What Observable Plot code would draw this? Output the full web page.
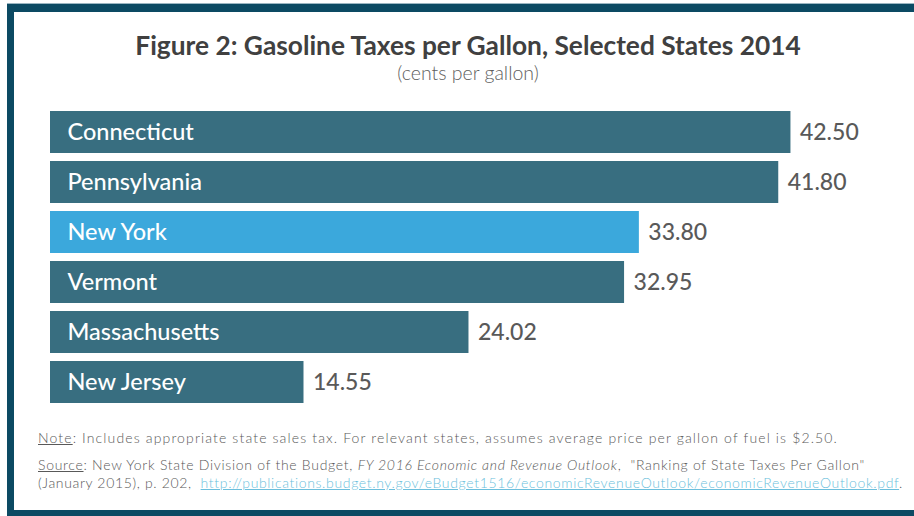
<!DOCTYPE html>
<html>
<head>
<meta charset="utf-8">
<script src="https://cdn.jsdelivr.net/npm/d3@7"></script>
<script src="https://cdn.jsdelivr.net/npm/@observablehq/plot@0.6"></script>
<style>
  html, body { margin: 0; padding: 0; background: #fff; }
  #wrap { position: relative; width: 914px; height: 516px; overflow: hidden; font-family: Lato, "Open Sans", sans-serif; }
  #topline { position: absolute; left: 7px; top: 3px; width: 920px; height: 1px; background: #9bb6c2; }
  #frame { position: absolute; left: 7px; top: 4px; width: 920px; height: 498px; border-left: 7px solid #0c4a63; border-top: 8px solid #0c4a63; border-bottom: 6px solid #0c4a63; box-sizing: content-box; }
  #title { position: absolute; left: 0; width: 936px; top: 29px; text-align: center; font-weight: bold; font-size: 26.3px; color: #404040; }
  #subtitle { position: absolute; left: 0; width: 936px; top: 61px; text-align: center; font-weight: 300; font-size: 19.5px; color: #5e5e5e; }
  #chart { position: absolute; left: 0; top: 100px; }
  .note { position: absolute; left: 38px; font-size: 14px; color: #595959; white-space: nowrap; font-weight: 300; }
  .note u { text-decoration: underline; }
  .note a { color: #6cbfdc; text-decoration: underline; }
</style>
</head>
<body>
<div id="wrap">
  <div id="topline"></div>
  <div id="frame"></div>
  <div id="title">Figure 2: Gasoline Taxes per Gallon, Selected States 2014</div>
  <div id="subtitle">(cents per gallon)</div>
  <div id="chart"></div>
  <div class="note" id="n1" style="top:429px; letter-spacing:1.13px;"><u>Note</u>: Includes appropriate state sales tax. For relevant states, assumes average price per gallon of fuel is $2.50.</div>
  <div class="note" id="n2" style="top:456px; letter-spacing:0.67px;"><u>Source</u>: New York State Division of the Budget, <i>FY 2016 Economic and Revenue Outlook</i>,&nbsp; "Ranking of State Taxes Per Gallon"</div>
  <div class="note" id="n3" style="top:474px; letter-spacing:0.57px;">(January 2015), p. 202,&nbsp; <a>http://publications.budget.ny.gov/eBudget1516/economicRevenueOutlook/economicRevenueOutlook.pdf</a>.</div>
</div>
<script>
const states = ["Connecticut", "Pennsylvania", "New York", "Vermont", "Massachusetts", "New Jersey"];
const taxes = [42.50, 41.80, 33.80, 32.95, 24.02, 14.55];
const labels = ["42.50", "41.80", "33.80", "32.95", "24.02", "14.55"];
const highlight = "New York";

const data = states.map((s, i) => ({state: s, tax: taxes[i], label: labels[i]}));

const chart = Plot.plot({
  width: 914,
  height: 311,
  marginLeft: 50,
  marginRight: 80,
  marginTop: 3,
  marginBottom: 0,
  x: {domain: [0, 45], axis: null},
  y: {domain: states, padding: 0.16, axis: null},
  style: {fontFamily: "Lato, 'Open Sans', sans-serif", background: "transparent"},
  marks: [
    Plot.barX(data, {x: "tax", y: "state", fill: d => d.state === highlight ? "#3ba8dc" : "#386e80"}),
    Plot.text(data, {x: 0, y: "state", text: "state", textAnchor: "start", dx: 17, fill: "#ffffff", fontSize: 23.5, fontWeight: 500}),
    Plot.text(data, {x: "tax", y: "state", text: "label", textAnchor: "start", dx: 9, fill: "#595959", fontSize: 23, fontWeight: 500})
  ]
});
document.getElementById("chart").appendChild(chart);
// fit note line widths to the reference extents
const targets = {n1: 800, n2: 827, n3: 865};
for (const [id, w] of Object.entries(targets)) {
  const el = document.getElementById(id);
  const n = el.textContent.length;
  const cur = el.getBoundingClientRect().width;
  const ls = parseFloat(el.style.letterSpacing) + (w - cur) / n;
  el.style.letterSpacing = ls + "px";
}
</script>
</body>
</html>
